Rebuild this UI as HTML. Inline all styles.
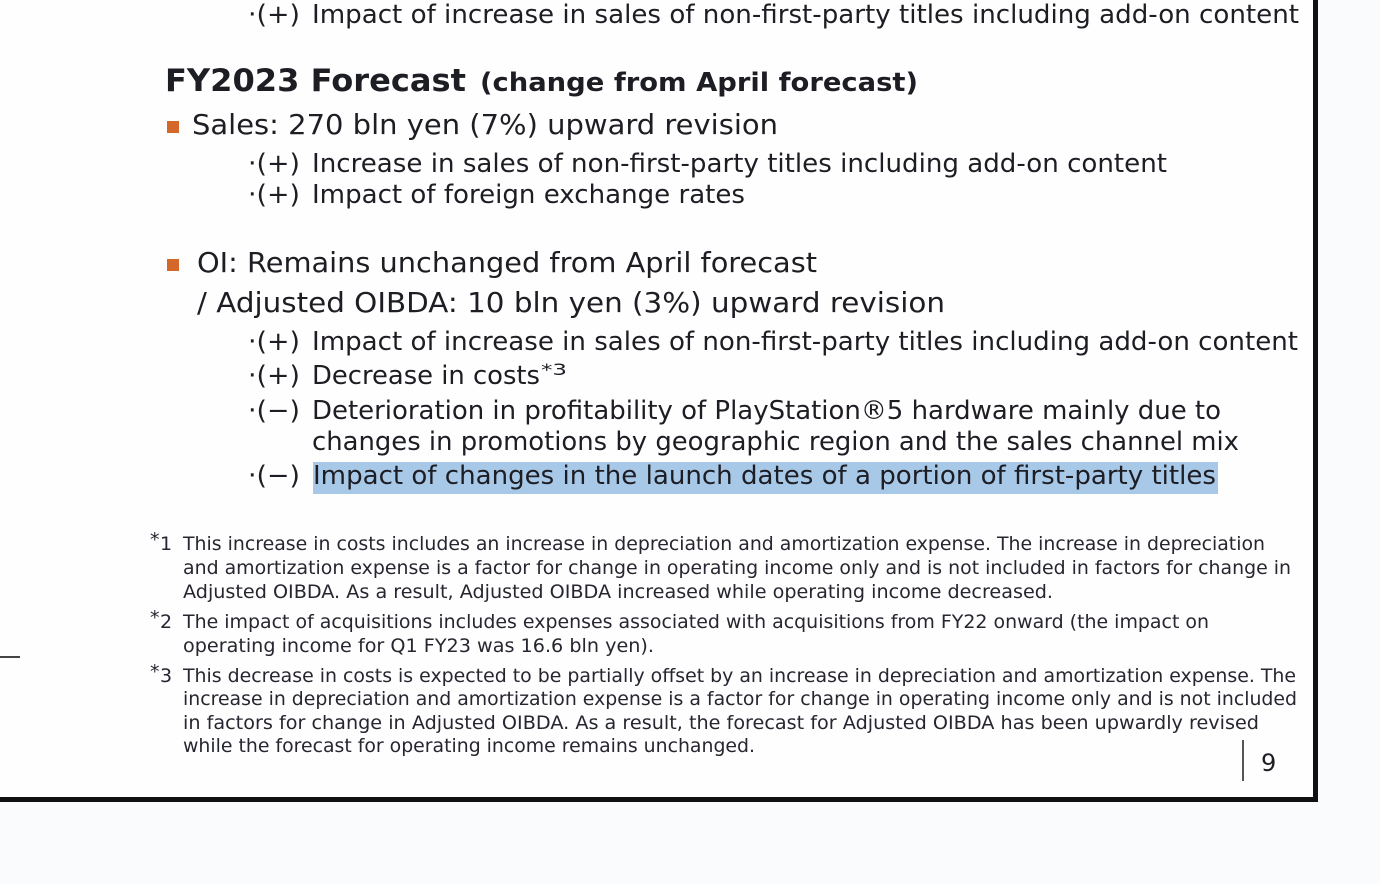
<!DOCTYPE html>
<html>
<head>
<meta charset="utf-8">
<style>
html,body{margin:0;padding:0;background:#fafbfd;}
svg{display:block;}
text{font-family:"DejaVu Sans","Liberation Sans",sans-serif;fill:#1d1d24;}
.m{font-size:28px;}
.s{font-size:26px;}
.f{font-size:19px;fill:#262630;}
.b{font-weight:bold;}
</style>
</head>
<body>
<svg width="1380" height="884" viewBox="0 0 1380 884" xmlns="http://www.w3.org/2000/svg">
<rect x="0" y="0" width="1380" height="884" fill="#fafbfd"/>
<rect x="0" y="0" width="1316" height="799" fill="#fefefe"/>
<rect x="1313" y="0" width="5" height="802" fill="#111"/>
<rect x="0" y="797" width="1318" height="5" fill="#111"/>

<!-- line 1 -->
<text class="s" x="248" y="23" textLength="52" lengthAdjust="spacingAndGlyphs">·(+)</text>
<text class="s" x="312" y="23" textLength="987" lengthAdjust="spacingAndGlyphs">Impact of increase in sales of non-first-party titles including add-on content</text>

<!-- title -->
<text class="b" x="165" y="91" font-size="31" textLength="301" lengthAdjust="spacingAndGlyphs">FY2023 Forecast</text>
<text class="b" x="480" y="91" font-size="26" textLength="438" lengthAdjust="spacingAndGlyphs">(change from April forecast)</text>

<!-- Sales -->
<rect x="167" y="121" width="12" height="12" fill="#d4672a"/>
<text class="m" x="192" y="134" textLength="586" lengthAdjust="spacingAndGlyphs">Sales: 270 bln yen (7%) upward revision</text>
<text class="s" x="248" y="172" textLength="52" lengthAdjust="spacingAndGlyphs">·(+)</text>
<text class="s" x="312" y="172" textLength="855" lengthAdjust="spacingAndGlyphs">Increase in sales of non-first-party titles including add-on content</text>
<text class="s" x="248" y="203" textLength="52" lengthAdjust="spacingAndGlyphs">·(+)</text>
<text class="s" x="312" y="203" textLength="433" lengthAdjust="spacingAndGlyphs">Impact of foreign exchange rates</text>

<!-- OI -->
<rect x="167" y="259" width="12" height="12" fill="#d4672a"/>
<text class="m" x="197" y="272" textLength="620" lengthAdjust="spacingAndGlyphs">OI: Remains unchanged from April forecast</text>
<text class="m" x="197" y="312" textLength="748" lengthAdjust="spacingAndGlyphs">/ Adjusted OIBDA: 10 bln yen (3%) upward revision</text>

<text class="s" x="248" y="350" textLength="52" lengthAdjust="spacingAndGlyphs">·(+)</text>
<text class="s" x="312" y="350" textLength="986" lengthAdjust="spacingAndGlyphs">Impact of increase in sales of non-first-party titles including add-on content</text>
<text class="s" x="248" y="384" textLength="52" lengthAdjust="spacingAndGlyphs">·(+)</text>
<text class="s" x="312" y="384" textLength="228" lengthAdjust="spacingAndGlyphs">Decrease in costs</text>
<text x="541" y="375" font-size="16" textLength="26" lengthAdjust="spacingAndGlyphs">*3</text>
<text class="s" x="248" y="419" textLength="52" lengthAdjust="spacingAndGlyphs">·(−)</text>
<text class="s" x="312" y="419" textLength="909" lengthAdjust="spacingAndGlyphs">Deterioration in profitability of PlayStation®5 hardware mainly due to</text>
<text class="s" x="312" y="450" textLength="927" lengthAdjust="spacingAndGlyphs">changes in promotions by geographic region and the sales channel mix</text>

<rect x="313" y="462" width="905" height="32" fill="#a8c8e8"/>
<text class="s" x="248" y="484" textLength="52" lengthAdjust="spacingAndGlyphs">·(−)</text>
<text class="s" x="313" y="484" textLength="903" lengthAdjust="spacingAndGlyphs">Impact of changes in the launch dates of a portion of first-party titles</text>

<!-- footnotes -->
<text class="f" x="150" y="546" font-size="11">*</text>
<text class="f" x="160" y="550">1</text>
<text class="f" x="183" y="550" textLength="1082" lengthAdjust="spacingAndGlyphs">This increase in costs includes an increase in depreciation and amortization expense. The increase in depreciation</text>
<text class="f" x="183" y="574" textLength="1108" lengthAdjust="spacingAndGlyphs">and amortization expense is a factor for change in operating income only and is not included in factors for change in</text>
<text class="f" x="183" y="598" textLength="870" lengthAdjust="spacingAndGlyphs">Adjusted OIBDA. As a result, Adjusted OIBDA increased while operating income decreased.</text>

<text class="f" x="150" y="624" font-size="11">*</text>
<text class="f" x="160" y="628">2</text>
<text class="f" x="183" y="628" textLength="1026" lengthAdjust="spacingAndGlyphs">The impact of acquisitions includes expenses associated with acquisitions from FY22 onward (the impact on</text>
<text class="f" x="183" y="652" textLength="471" lengthAdjust="spacingAndGlyphs">operating income for Q1 FY23 was 16.6 bln yen).</text>

<text class="f" x="150" y="678" font-size="11">*</text>
<text class="f" x="160" y="682">3</text>
<text class="f" x="183" y="682" textLength="1113" lengthAdjust="spacingAndGlyphs">This decrease in costs is expected to be partially offset by an increase in depreciation and amortization expense. The</text>
<text class="f" x="183" y="705" textLength="1114" lengthAdjust="spacingAndGlyphs">increase in depreciation and amortization expense is a factor for change in operating income only and is not included</text>
<text class="f" x="183" y="729" textLength="1076" lengthAdjust="spacingAndGlyphs">in factors for change in Adjusted OIBDA. As a result, the forecast for Adjusted OIBDA has been upwardly revised</text>
<text class="f" x="183" y="752" textLength="572" lengthAdjust="spacingAndGlyphs">while the forecast for operating income remains unchanged.</text>

<!-- page number -->
<rect x="1242" y="740" width="2" height="41" fill="#555"/>
<text x="1261" y="771" font-size="24">9</text>

<!-- left dash -->
<rect x="0" y="656" width="20" height="2" fill="#444"/>
</svg>
</body>
</html>
